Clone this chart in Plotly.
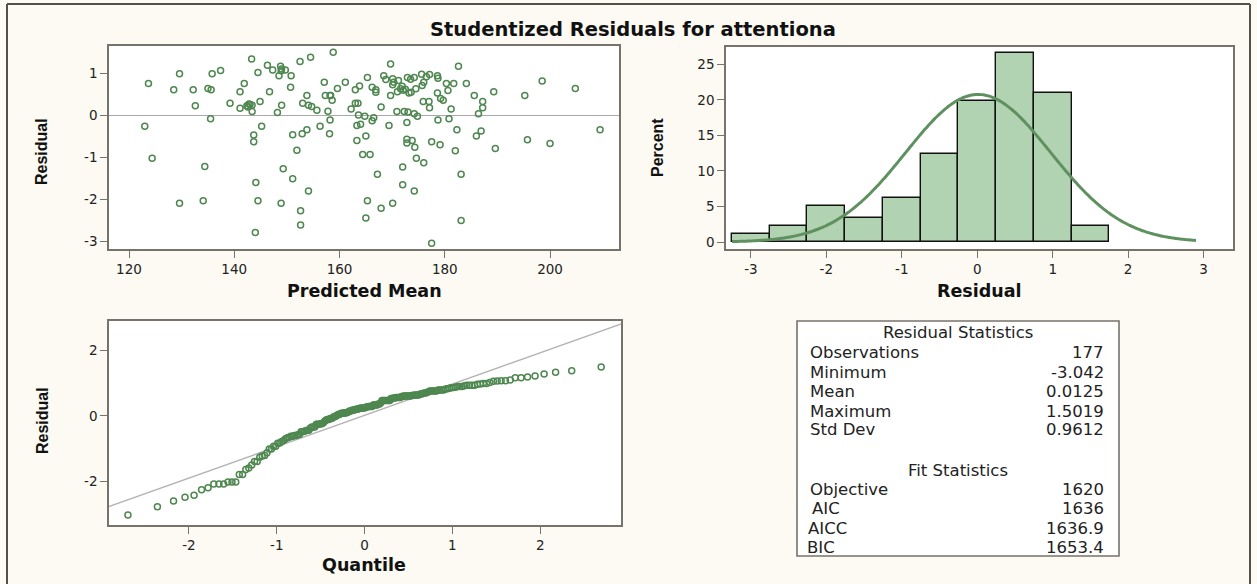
import plotly.graph_objects as go
import numpy as np
from statistics import NormalDist

# ---- data -------------------------------------------------------------
predicted_mean = [
    143.3, 158.8, 154.5, 152.5, 146.3, 148.8, 147.3, 148.9, 149.7, 144.5,
    137.4, 135.8, 129.6, 148.5, 150.8, 123.7, 141.9, 157.1, 161.1, 163.8,
    150.7, 159.6, 163.0, 128.5, 132.2, 135.0, 135.6, 141.1, 146.7, 153.8,
    157.3, 158.2, 158.6, 139.2, 144.9, 142.8, 142.4, 143.4, 141.1, 132.6,
    149.0, 153.0, 154.1, 154.7, 155.7, 157.8, 148.2, 143.4, 162.2, 163.0,
    163.5, 135.5, 123.0, 145.2, 158.2, 156.3, 153.8, 152.9, 151.1, 158.1,
    143.7, 143.7, 163.3, 164.0, 163.3, 151.9, 124.4, 134.4, 149.3, 144.1,
    151.1, 154.1, 129.6, 134.1, 144.5, 148.9, 152.6, 152.6, 144.0,
    169.7, 182.6, 165.3, 168.4, 168.8, 170.1, 170.3, 170.1, 172.9, 174.2,
    175.6, 177.1, 178.6, 178.7, 176.0, 175.7, 180.3, 181.7, 184.1, 198.5,
    204.8, 166.2, 166.9, 166.9, 171.0, 171.6, 171.9, 172.1, 173.2, 173.6,
    174.5, 169.7, 178.6, 180.6, 179.2, 179.7, 175.9, 177.0, 177.1, 185.6,
    187.2, 187.2, 189.3, 195.2, 167.9, 170.9, 172.3, 174.2, 174.8, 181.2,
    186.4, 164.8, 166.5, 166.2, 169.4, 172.8, 178.7, 180.8, 182.3, 186.9,
    186.0, 209.5, 165.0, 172.8, 173.8, 172.8, 174.3, 177.5, 179.1, 182.0,
    189.6, 195.7, 200.0, 164.4, 165.8, 174.6, 176.0, 172.0, 167.2, 183.1,
    172.0, 174.2, 165.3, 167.9, 170.1, 165.0, 183.1, 177.5,
    143.0, 172.5, 158.3, 171.2, 173.5, 149.0, 176.5, 142.6, 163.6, 173.0,
]
residual = [
    1.34, 1.502, 1.38, 1.28, 1.19, 1.17, 1.08, 1.06, 1.08, 1.02,
    1.07, 0.99, 0.99, 0.94, 0.94, 0.76, 0.76, 0.79, 0.79, 0.70,
    0.67, 0.64, 0.61, 0.61, 0.61, 0.64, 0.61, 0.56, 0.56, 0.47,
    0.47, 0.47, 0.36, 0.29, 0.33, 0.27, 0.23, 0.24, 0.17, 0.23,
    0.24, 0.29, 0.24, 0.21, 0.12, 0.10, 0.07, 0.09, 0.15, 0.29,
    0.29, -0.08, -0.26, -0.26, -0.11, -0.26, -0.34, -0.44, -0.46, -0.44,
    -0.47, -0.63, -0.24, -0.21, -0.60, -0.83, -1.02, -1.22, -1.27, -1.60,
    -1.51, -1.80, -2.09, -2.03, -2.03, -2.09, -2.27, -2.61, -2.79,
    1.22, 1.17, 0.90, 0.94, 0.85, 0.87, 0.79, 0.73, 0.90, 0.90,
    0.98, 0.97, 0.94, 0.88, 0.79, 0.71, 0.76, 0.76, 0.76, 0.82,
    0.64, 0.67, 0.61, 0.55, 0.56, 0.63, 0.69, 0.60, 0.53, 0.55,
    0.63, 0.47, 0.53, 0.59, 0.40, 0.36, 0.33, 0.33, 0.18, 0.47,
    0.33, 0.18, 0.56, 0.47, 0.20, 0.09, 0.09, 0.04, -0.02, 0.15,
    0.04, -0.02, -0.06, -0.13, -0.24, -0.17, -0.11, -0.08, -0.34, -0.37,
    -0.49, -0.34, -0.49, -0.57, -0.60, -0.66, -0.76, -0.63, -0.70, -0.84,
    -0.79, -0.58, -0.67, -0.93, -0.93, -1.02, -1.13, -1.23, -1.40, -1.40,
    -1.65, -1.80, -2.03, -2.21, -2.09, -2.44, -2.50, -3.042,
    0.26, 0.62, 0.47, 0.83, 0.86, 1.10, 0.92, 0.20, 0.01, 0.08,
]

# summary statistics shown in the table
resid_stat_labels = ["Observations", "Minimum", "Mean", "Maximum", "Std Dev"]
resid_stat_values = ["177", "-3.042", "0.0125", "1.5019", "0.9612"]
fit_stat_labels = ["Objective", "AIC", "AICC", "BIC"]
fit_stat_values = ["1620", "1636", "1636.9", "1653.4"]
RESID_MEAN = 0.0125
RESID_SD = 0.9612

scatter_xticks = [120, 140, 160, 180, 200]
scatter_yticks = [-3, -2, -1, 0, 1]
hist_xticks = [-3, -2, -1, 0, 1, 2, 3]
hist_yticks = [0, 5, 10, 15, 20, 25]
qq_xticks = [-2, -1, 0, 1, 2]
qq_yticks = [-2, 0, 2]

# ---- styling ----------------------------------------------------------
W, H = 1257, 584
BG = "#fcfaf2"
FRAME = "#77736a"
GREEN = "#4e874f"
BAR_FILL = "#b2d3b2"
CURVE = "#5f9160"
TXT = "#222222"
FONT = "DejaVu Sans"
VFONT = "Liberation Sans"


def fx(p):
    return p / W


def fy(p):
    return 1 - p / H


def axis(domain, rng, ticks, anchor):
    return dict(
        domain=domain, range=rng, tickvals=ticks, ticktext=[str(t) for t in ticks],
        anchor=anchor,
        showline=True, mirror=True, linecolor=FRAME, linewidth=1.6,
        ticks="outside", ticklen=7, tickwidth=1.4, tickcolor=FRAME,
        showgrid=False, zeroline=False,
        tickfont=dict(family=FONT, size=13.5, color=TXT),
    )


fig = go.Figure()

# residual vs predicted mean
fig.add_trace(go.Scatter(
    x=predicted_mean, y=residual, mode="markers",
    marker=dict(symbol="circle-open", size=6, color=GREEN, line=dict(width=1.5)),
    xaxis="x", yaxis="y", hoverinfo="x+y",
))

# histogram of residuals with fitted normal density
fig.add_trace(go.Histogram(
    x=residual, histnorm="percent",
    xbins=dict(start=-3.25, end=1.75, size=0.5),
    marker=dict(color=BAR_FILL, line=dict(color="#111111", width=1.4)),
    xaxis="x2", yaxis="y2",
))
curve_x = np.linspace(-3.25, 2.9, 241)
nd = NormalDist(RESID_MEAN, RESID_SD)
curve_y = [100 * 0.5 * nd.pdf(v) for v in curve_x]
fig.add_trace(go.Scatter(
    x=curve_x, y=curve_y, mode="lines",
    line=dict(color=CURVE, width=3, shape="spline"),
    xaxis="x2", yaxis="y2",
))

# normal quantile plot
n = len(residual)
sorted_resid = sorted(residual)
std_norm = NormalDist()
quantiles = [std_norm.inv_cdf((i + 1 - 0.375) / (n + 0.25)) for i in range(n)]
fig.add_trace(go.Scatter(
    x=[-3.2, 3.2], y=[RESID_MEAN - 3.2 * RESID_SD, RESID_MEAN + 3.2 * RESID_SD],
    mode="lines", line=dict(color="#b4b4b4", width=1.4),
    xaxis="x3", yaxis="y3",
))
fig.add_trace(go.Scatter(
    x=quantiles, y=sorted_resid, mode="markers",
    marker=dict(symbol="circle-open", size=6, color=GREEN, line=dict(width=1.5)),
    xaxis="x3", yaxis="y3",
))

layout = dict(
    width=W, height=H, showlegend=False,
    paper_bgcolor=BG, plot_bgcolor="white",
    margin=dict(l=0, r=0, t=0, b=0),
    bargap=0,
    xaxis=axis([fx(109), fx(619)], [116.2, 213.1], scatter_xticks, "y"),
    yaxis=axis([fy(249), fy(46)], [-3.18, 1.65], scatter_yticks, "x"),
    xaxis2=axis([fx(726), fx(1233)], [-3.33, 3.39], hist_xticks, "y2"),
    yaxis2=axis([fy(249), fy(47)], [-0.98, 27.43], hist_yticks, "x2"),
    xaxis3=axis([fx(109), fx(621)], [-2.91, 2.92], qq_xticks, "y3"),
    yaxis3=axis([fy(525), fy(321)], [-3.35, 2.91], qq_yticks, "x3"),
)
layout["yaxis"].update(zeroline=True, zerolinecolor="#a8a8a8", zerolinewidth=1)
fig.update_layout(**layout)

shapes = [
    # outer frame
    dict(type="line", xref="paper", yref="paper", x0=fx(7), x1=fx(1250), y0=fy(4), y1=fy(4),
         line=dict(color="#555048", width=2)),
    dict(type="line", xref="paper", yref="paper", x0=fx(7), x1=fx(7), y0=fy(4), y1=0,
         line=dict(color="#555048", width=2)),
    dict(type="line", xref="paper", yref="paper", x0=fx(1250), x1=fx(1250), y0=fy(4), y1=0,
         line=dict(color="#555048", width=2)),
    # statistics table box
    dict(type="rect", xref="paper", yref="paper", x0=fx(797), x1=fx(1119), y0=fy(556), y1=fy(321),
         fillcolor="white", line=dict(color=FRAME, width=1.6), layer="below"),
]
fig.update_layout(shapes=shapes)

ann = []


def text(s, x, y, size=15, bold=False, anchor="center", angle=0, family=FONT):
    ann.append(dict(
        text=f"<b>{s}</b>" if bold else s, x=fx(x), y=fy(y), xref="paper", yref="paper",
        xanchor=anchor, yanchor="middle", showarrow=False, textangle=angle,
        font=dict(family=family, size=size, color="#111111" if bold else TXT),
    ))


TS = 16.5
text("Studentized Residuals for attentiona", 633, 30, size=19.5, bold=True)
text("Predicted Mean", 364, 291, size=17.5, bold=True)
text("Residual", 979, 291, size=17.5, bold=True)
text("Quantile", 364, 565, size=17.5, bold=True)
text("Residual", 42, 152, size=16, bold=True, angle=-90, family=VFONT)
text("Percent", 657, 148, size=16, bold=True, angle=-90, family=VFONT)
text("Residual", 42, 421, size=16, bold=True, angle=-90, family=VFONT)

text("Residual Statistics", 958, 332, size=TS)
row_y = [352, 372, 391, 411, 430]
for lab, val, yy in zip(resid_stat_labels, resid_stat_values, row_y):
    text(lab, 808, yy, size=TS, anchor="left")
    text(val, 1106, yy, size=TS, anchor="right")
text("Fit Statistics", 958, 470, size=TS)
fit_y = [489, 508, 528, 547]
fit_x = [808, 810, 806, 805]
for lab, val, yy, xx in zip(fit_stat_labels, fit_stat_values, fit_y, fit_x):
    text(lab, xx, yy, size=TS, anchor="left")
    text(val, 1106, yy, size=TS, anchor="right")

fig.update_layout(annotations=ann)
fig.write_html("out.html")
